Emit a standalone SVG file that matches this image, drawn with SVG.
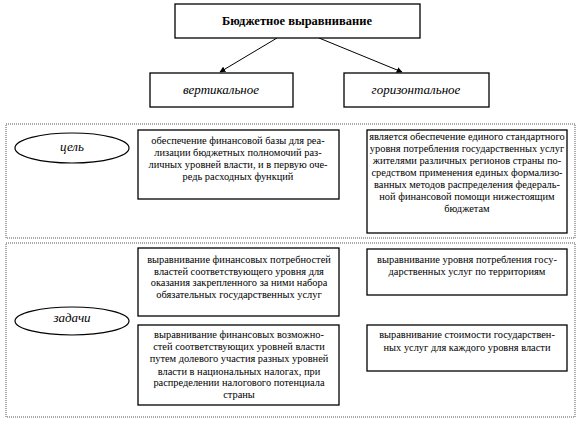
<svg xmlns="http://www.w3.org/2000/svg" width="585" height="424" viewBox="0 0 585 424">
<style>
.box{fill:#fff;stroke:#000;stroke-width:1.3}
.dot{fill:none;stroke:#555;stroke-width:1;stroke-dasharray:1,1}
.ell{fill:#fff;stroke:#000;stroke-width:1.2}
.t{font-family:'Liberation Serif',serif;font-size:10.4px;fill:#000;text-anchor:middle}
.ti{font-family:'Liberation Serif',serif;font-size:13px;font-style:italic;fill:#000;text-anchor:middle}
.tb{font-family:'Liberation Serif',serif;font-size:12.5px;font-weight:bold;fill:#000;text-anchor:middle}
.ln{stroke:#000;stroke-width:1;fill:none}
</style>
<defs>
<marker id="ah" viewBox="0 0 10 10" refX="9" refY="5" markerWidth="6" markerHeight="6" orient="auto">
<path d="M0,0 L10,5 L0,10 z" fill="#000"/>
</marker>
</defs>
<g id="frames">
<rect class="dot" x="6" y="124" width="569" height="114"/>
<rect class="dot" x="6" y="243" width="569" height="174"/>
</g>
<g id="connectors">
<line class="ln" x1="277" y1="38" x2="220" y2="72" marker-end="url(#ah)"/>
<line class="ln" x1="319" y1="38" x2="402" y2="72" marker-end="url(#ah)"/>
</g>
<g id="root">
<rect class="box" x="175" y="4" width="245" height="34"/>
<text class="tb" x="297" y="25">Бюджетное выравнивание</text>
</g>
<g id="vertical">
<rect class="box" x="150" y="73" width="143" height="34"/>
<text class="ti" x="221" y="94">вертикальное</text>
</g>
<g id="horizontal">
<rect class="box" x="344" y="73" width="145" height="34"/>
<text class="ti" x="416" y="94">горизонтальное</text>
</g>
<g id="goal">
<ellipse class="ell" cx="72" cy="148" rx="57" ry="15"/>
<text class="ti" x="72" y="151">цель</text>
</g>
<g id="goal-vertical">
<rect class="box" x="138" y="130" width="201" height="69"/>
<text class="t" x="238" y="144">обеспечение финансовой базы для реа-</text>
<text class="t" x="238" y="156">лизации бюджетных полномочий раз-</text>
<text class="t" x="238" y="168">личных уровней власти, и в первую оче-</text>
<text class="t" x="238" y="180">редь расходных функций</text>
</g>
<g id="goal-horizontal">
<rect class="box" x="367" y="130" width="200" height="103"/>
<text class="t" x="467" y="140">является обеспечение единого стандартного</text>
<text class="t" x="467" y="152">уровня потребления государственных услуг</text>
<text class="t" x="467" y="164">жителями различных регионов страны по-</text>
<text class="t" x="467" y="176">средством применения единых формализо-</text>
<text class="t" x="467" y="188">ванных методов распределения федераль-</text>
<text class="t" x="467" y="200">ной финансовой помощи нижестоящим</text>
<text class="t" x="467" y="212">бюджетам</text>
</g>
<g id="tasks">
<ellipse class="ell" cx="72" cy="321" rx="57" ry="14"/>
<text class="ti" x="72" y="322">задачи</text>
</g>
<g id="task-vertical-1">
<rect class="box" x="138" y="248" width="201" height="68"/>
<text class="t" x="239" y="263">выравнивание финансовых потребностей</text>
<text class="t" x="239" y="275">властей соответствующего уровня для</text>
<text class="t" x="239" y="286">оказания закрепленного за ними набора</text>
<text class="t" x="239" y="298">обязательных государственных услуг</text>
</g>
<g id="task-vertical-2">
<rect class="box" x="138" y="325" width="201" height="80"/>
<text class="t" x="239" y="338">выравнивание финансовых возможно-</text>
<text class="t" x="239" y="350">стей соответствующих уровней власти</text>
<text class="t" x="239" y="362">путем долевого участия разных уровней</text>
<text class="t" x="239" y="375">власти в национальных налогах, при</text>
<text class="t" x="239" y="386">распределении налогового потенциала</text>
<text class="t" x="239" y="398">страны</text>
</g>
<g id="task-horizontal-1">
<rect class="box" x="367" y="249" width="200" height="46"/>
<text class="t" x="467" y="263">выравнивание уровня потребления госу-</text>
<text class="t" x="467" y="275">дарственных услуг по территориям</text>
</g>
<g id="task-horizontal-2">
<rect class="box" x="367" y="325" width="200" height="46"/>
<text class="t" x="467" y="338">выравнивание стоимости государствен-</text>
<text class="t" x="467" y="351">ных услуг для каждого уровня власти</text>
</g>
</svg>
